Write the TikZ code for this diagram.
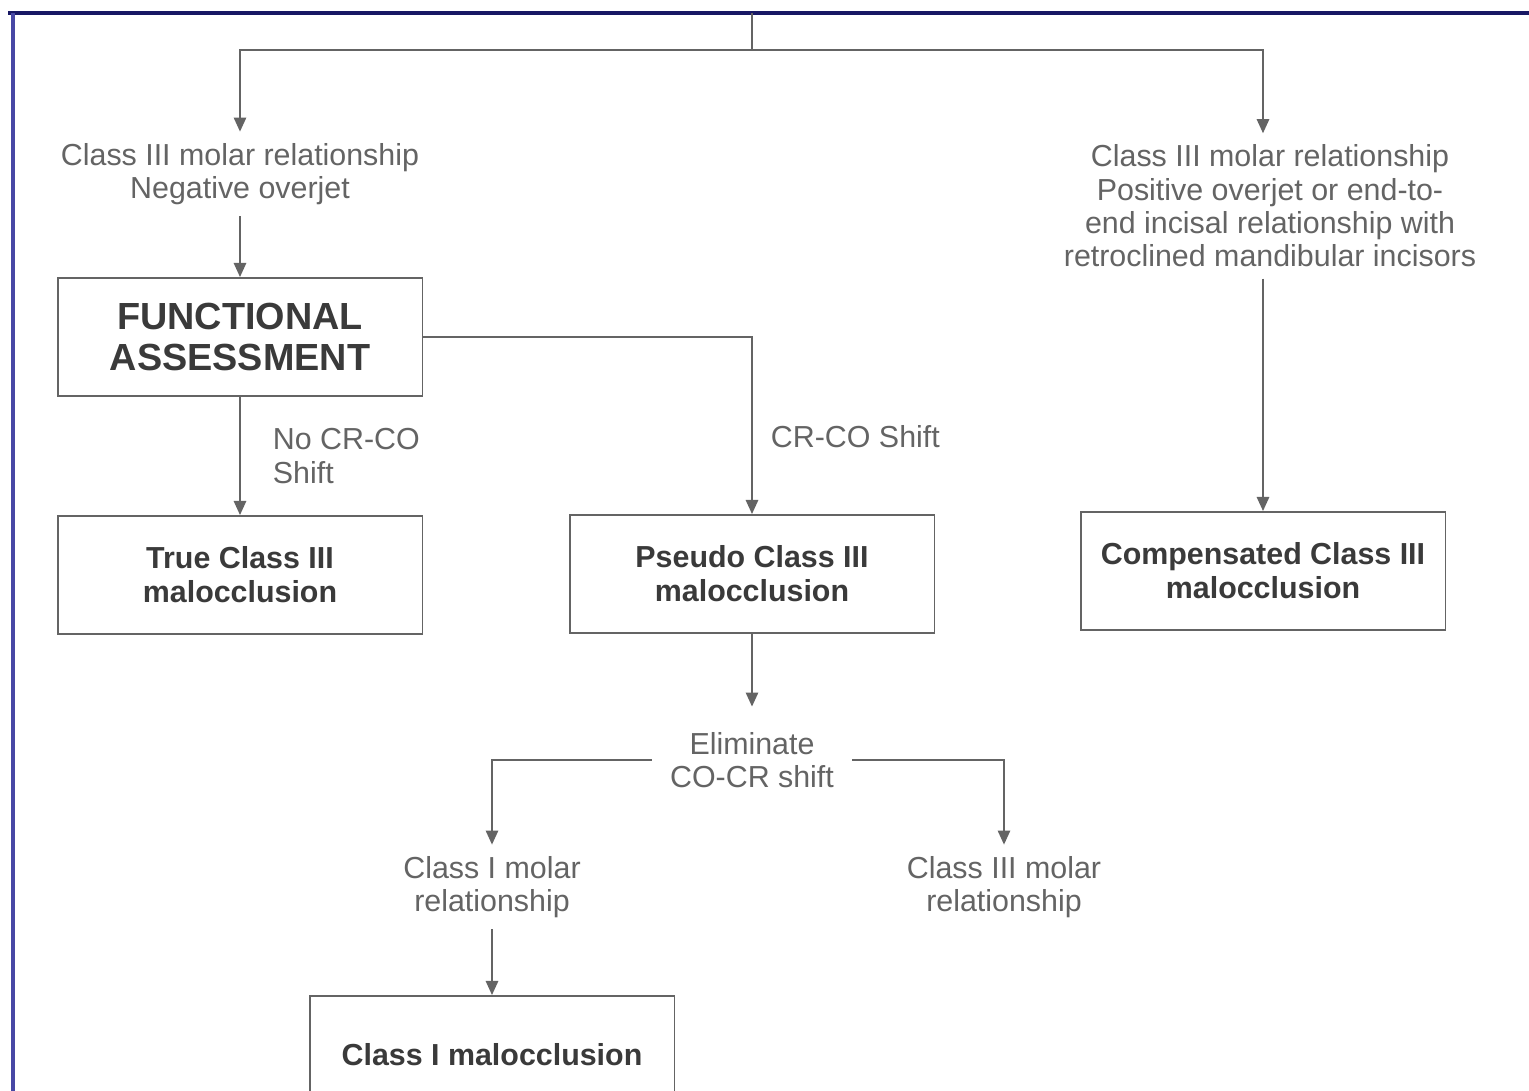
\documentclass[tikz,border=0pt]{standalone}
\usepackage{fontspec}
\setmainfont{Liberation Sans}
\usetikzlibrary{arrows.meta}
\definecolor{navyframe}{RGB}{24,24,100}
\definecolor{sideframe}{RGB}{72,72,165}
\definecolor{inkgray}{RGB}{100,100,100}
\definecolor{boxtext}{RGB}{58,58,58}
\begin{document}
\begin{tikzpicture}[x=.02cm,y=-.02cm,line width=1.1pt,
  arr/.style={-{Triangle[width=7pt,length=8pt]},draw=inkgray},
  txt/.style={align=center,text=inkgray,font=\fontsize{17.3}{19}\selectfont,inner xsep=2pt,inner ysep=6pt},
  lbl/.style={align=left,text=inkgray,font=\fontsize{17.3}{19}\selectfont,inner sep=0pt},
  box/.style={draw=inkgray,align=center,text=boxtext,font=\fontsize{17.3}{19.5}\selectfont\bfseries,minimum width=7.3cm,minimum height=2.36cm}]
\useasboundingbox[fill=white] (0,0) rectangle (1529,1091);
\draw[navyframe,line width=2.4pt] (8,13)--(1529,13);
\draw[sideframe,line width=2.4pt] (13,13)--(13,1091);
\node[txt] (negoj) at (240,174) {Class III molar relationship\\Negative overjet};
\node[box,font=\fontsize{21.5}{23.5}\selectfont\bfseries] (func) at (240,337) {FUNCTIONAL\\ASSESSMENT};
\node[box] (trueiii) at (240,575) {True Class III\\malocclusion};
\node[box] (pseudo) at (752,574) {Pseudo Class III\\malocclusion};
\node[txt] (posoj) at (1270,206) {Class III molar relationship\\Positive overjet or end-to-\\end incisal relationship with\\retroclined mandibular incisors};
\node[box] (comp) at (1263,571) {Compensated Class III\\malocclusion};
\node[txt,inner xsep=10pt] (elim) at (752,760) {Eliminate\\CO-CR shift};
\node[txt] (molari) at (492,887) {Class I molar\\relationship};
\node[txt] (molariii) at (1004,887) {Class III molar\\relationship};
\node[box] (classi) at (492,1055) {Class I malocclusion};
\coordinate (top) at (752,13);
\coordinate (fork) at (752,50);
\draw[arr,-] (top)--(fork);
\draw[arr] (fork) -| (negoj.north);
\draw[arr] (fork) -| (comp.north |- posoj.north);
\draw[arr] (negoj)--(func);
\draw[arr] (func)-- node[lbl,anchor=west,xshift=.64cm]{No CR-CO\\Shift} (trueiii);
\draw[arr] (func.east) -| node[lbl,pos=.78,anchor=west,xshift=.36cm]{CR-CO Shift} (pseudo.north);
\draw[arr] (posoj.south -| comp.north)--(comp.north);
\draw[arr,shorten >=8pt] (pseudo)--(elim);
\draw[arr] (elim.west) -| (molari.north);
\draw[arr] (elim.east) -| (molariii.north);
\draw[arr] (molari)--(classi);
\end{tikzpicture}
\end{document}
